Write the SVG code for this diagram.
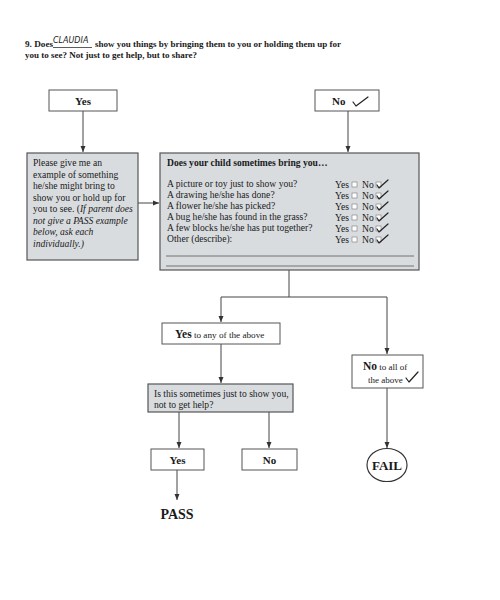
<svg xmlns="http://www.w3.org/2000/svg" width="500" height="600" viewBox="0 0 500 600">
<defs>
<marker id="ah" viewBox="0 0 6 6" refX="6" refY="3" markerWidth="6" markerHeight="6" orient="auto" markerUnits="userSpaceOnUse">
<path d="M0,0.5 L6,3 L0,5.5 Z" fill="#333"/>
</marker>
<style>
text{font-family:"Liberation Serif","Times New Roman",serif;fill:#1a1a1a}
.b{font-weight:bold}
.box{fill:#fff;stroke:#555;stroke-width:1}
.gray{fill:#d9dcdf;stroke:#555;stroke-width:1.2}
.conn{fill:none;stroke:#444;stroke-width:1}
.chk{fill:none;stroke:#222;stroke-width:1.2;stroke-linecap:round;stroke-linejoin:round}
.t8{font-size:9.6px}
.sm{font-size:9px}
</style>
</defs>
<rect width="500" height="600" fill="#fff"/>

<g id="title">
<text class="b" x="25" y="47" font-size="9.2">9. Does</text>
<text x="53" y="43" font-size="8" font-style="italic" style="font-family:'DejaVu Sans',sans-serif" fill="#2a2a5a">CLAUDIA</text>
<line x1="53" y1="47.5" x2="92" y2="47.5" stroke="#333" stroke-width="0.8"/>
<text class="b" x="95" y="47" font-size="9">show you things by bringing them to you or holding them up for</text>
<text class="b" x="25" y="58" font-size="9">you to see? Not just to get help, but to share?</text>
</g>

<g id="connectors">
<path class="conn" d="M83,111 V152" marker-end="url(#ah)"/>
<path class="conn" d="M348,111 V152" marker-end="url(#ah)"/>
<path class="conn" d="M138,203 H159" marker-end="url(#ah)"/>
<path class="conn" d="M289,270 V297 M221,297 H387"/>
<path class="conn" d="M221,297 V322" marker-end="url(#ah)"/>
<path class="conn" d="M387,297 V354" marker-end="url(#ah)"/>
<path class="conn" d="M221,344 V383" marker-end="url(#ah)"/>
<path class="conn" d="M179,412 V448" marker-end="url(#ah)"/>
<path class="conn" d="M269,412 V448" marker-end="url(#ah)"/>
<path class="conn" d="M177,470 V500" marker-end="url(#ah)"/>
<path class="conn" d="M387,388 V448" marker-end="url(#ah)"/>
</g>

<g id="yes-top">
<rect class="box" x="49" y="90" width="68" height="21"/>
<text class="b" x="83" y="105" font-size="11" text-anchor="middle">Yes</text>
</g>

<g id="no-top">
<rect class="box" x="315" y="90" width="64" height="21"/>
<text class="b" x="332" y="105" font-size="11">No</text>
<path class="chk" d="M353,102 L356,106 L368,97"/>
</g>

<g id="example-box">
<rect class="gray" x="27" y="153" width="111" height="107"/>
<text class="t8" x="33" y="166">Please give me an</text>
<text class="t8" x="33" y="177.5">example of something</text>
<text class="t8" x="33" y="189">he/she might bring to</text>
<text class="t8" x="33" y="200.5">show you or hold up for</text>
<text class="t8" x="33" y="212">you to see. (<tspan font-style="italic">If parent does</tspan></text>
<text class="t8" x="33" y="223.5" font-style="italic">not give a PASS example</text>
<text class="t8" x="33" y="235" font-style="italic">below, ask each</text>
<text class="t8" x="33" y="246.5" font-style="italic">individually.)</text>
</g>

<g id="bring-box">
<rect class="gray" x="160" y="153" width="259" height="117"/>
<text class="b t8" x="167" y="166">Does your child sometimes bring you…</text>
<g class="t8">
<text x="167" y="187">A picture or toy just to show you?</text>
<text x="167" y="198">A drawing he/she has done?</text>
<text x="167" y="209">A flower he/she has picked?</text>
<text x="167" y="220">A bug he/she has found in the grass?</text>
<text x="167" y="231">A few blocks he/she has put together?</text>
<text x="167" y="242">Other (describe):</text>
<text x="335" y="188">Yes</text><text x="362" y="188">No</text>
<text x="335" y="199">Yes</text><text x="362" y="199">No</text>
<text x="335" y="210">Yes</text><text x="362" y="210">No</text>
<text x="335" y="221">Yes</text><text x="362" y="221">No</text>
<text x="335" y="232">Yes</text><text x="362" y="232">No</text>
<text x="335" y="243">Yes</text><text x="362" y="243">No</text>
</g>
<g fill="#fff" stroke="#777" stroke-width="0.6">
<rect x="352" y="182" width="5" height="5"/><rect x="376" y="182" width="5" height="5"/>
<rect x="352" y="193" width="5" height="5"/><rect x="376" y="193" width="5" height="5"/>
<rect x="352" y="204" width="5" height="5"/><rect x="376" y="204" width="5" height="5"/>
<rect x="352" y="215" width="5" height="5"/><rect x="376" y="215" width="5" height="5"/>
<rect x="352" y="226" width="5" height="5"/><rect x="376" y="226" width="5" height="5"/>
<rect x="352" y="237" width="5" height="5"/><rect x="376" y="237" width="5" height="5"/>
</g>
<path class="chk" d="M377,185 L379,188 L388,180"/>
<path class="chk" d="M377,196 L379,199 L388,191"/>
<path class="chk" d="M377,207 L379,210 L388,202"/>
<path class="chk" d="M377,218 L379,221 L388,213"/>
<path class="chk" d="M377,229 L379,232 L388,224"/>
<path class="chk" d="M377,240 L379,243 L388,235"/>
<line x1="166" y1="256" x2="414" y2="256" stroke="#555" stroke-width="0.8"/>
<line x1="166" y1="266" x2="414" y2="266" stroke="#555" stroke-width="0.8"/>
</g>

<g id="yes-any">
<rect class="box" x="162" y="323" width="118" height="21"/>
<text x="175" y="338"><tspan class="b" font-size="11.5">Yes</tspan><tspan font-size="9.2"> to any of the above</tspan></text>
</g>

<g id="no-all">
<rect class="box" x="352" y="355" width="71" height="33"/>
<text x="363" y="370"><tspan class="b" font-size="11.5">No</tspan><tspan class="sm"> to all of</tspan></text>
<text x="368" y="383" class="sm">the above</text>
<path class="chk" d="M406,378 L409,382 L418,372"/>
</g>

<g id="show-question">
<rect class="gray" x="148" y="384" width="145" height="28"/>
<text class="t8" x="154" y="397">Is this sometimes just to show you,</text>
<text class="t8" x="154" y="408">not to get help?</text>
</g>

<g id="yes-bottom">
<rect class="box" x="151" y="449" width="53" height="21"/>
<text class="b" x="177.5" y="464" font-size="11" text-anchor="middle">Yes</text>
</g>

<g id="no-bottom">
<rect class="box" x="242" y="449" width="55" height="21"/>
<text class="b" x="269.5" y="464" font-size="11" text-anchor="middle">No</text>
</g>

<g id="pass">
<text class="b" x="177" y="519" font-size="14" text-anchor="middle">PASS</text>
</g>

<g id="fail">
<ellipse cx="387" cy="465" rx="20" ry="16.5" fill="#fff" stroke="#333" stroke-width="1.2"/>
<text class="b" x="387" y="470" font-size="13" text-anchor="middle">FAIL</text>
</g>
</svg>
